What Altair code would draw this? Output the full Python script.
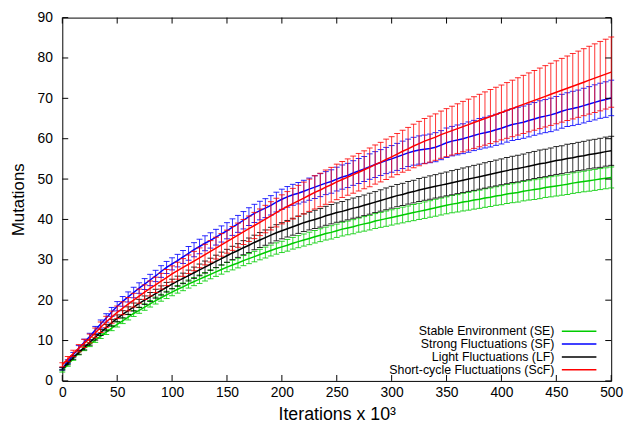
import altair as alt
import pandas as pd

# x positions (iterations x 10^3)
iterations = list(range(0, 501, 5))

series_names = [
    "Stable Environment (SE)",
    "Strong Fluctuations (SF)",
    "Light Fluctuations (LF)",
    "Short-cycle Fluctuations (ScF)",
]
series_colors = ["#00cc00", "#0000ff", "#000000", "#ff0000"]

se_mean = [
    2.5, 4.0, 5.5, 6.9, 8.0, 9.0, 10.1, 11.1, 12.1, 13.1,
    14.0, 14.9, 15.8, 16.7, 17.5, 18.3, 19.1, 19.9, 20.6, 21.3,
    22.0, 22.7, 23.3, 24.0, 24.6, 25.2, 25.8, 26.4, 27.0, 27.6,
    28.2, 28.7, 29.2, 29.8, 30.3, 30.8, 31.3, 31.8, 32.3, 32.8,
    33.2, 33.6, 34.1, 34.5, 34.9, 35.3, 35.7, 36.1, 36.5, 36.8,
    37.2, 37.6, 37.9, 38.2, 38.6, 38.9, 39.2, 39.6, 39.9, 40.2,
    40.5, 40.8, 41.1, 41.4, 41.7, 42.0, 42.3, 42.6, 42.9, 43.2,
    43.5, 43.8, 44.0, 44.3, 44.5, 44.8, 45.0, 45.3, 45.5, 45.8,
    46.0, 46.3, 46.5, 46.7, 47.0, 47.2, 47.4, 47.6, 47.9, 48.1,
    48.3, 48.5, 48.7, 49.0, 49.2, 49.4, 49.6, 49.8, 50.0, 50.2,
    50.4,
]
se_err = [
    0.3, 0.35, 0.4, 0.45, 0.5, 0.5, 0.55, 0.6, 0.6, 0.65,
    0.65, 0.7, 0.7, 0.75, 0.75, 0.8, 0.8, 0.85, 0.85, 0.9,
    0.9, 0.95, 0.95, 1.0, 1.0, 1.05, 1.05, 1.1, 1.1, 1.15,
    1.15, 1.2, 1.2, 1.25, 1.25, 1.3, 1.3, 1.35, 1.35, 1.4,
    1.4, 1.45, 1.45, 1.5, 1.5, 1.55, 1.55, 1.6, 1.6, 1.65,
    1.65, 1.7, 1.7, 1.75, 1.75, 1.8, 1.8, 1.85, 1.85, 1.9,
    1.9, 1.9, 1.95, 1.95, 2.0, 2.0, 2.05, 2.05, 2.1, 2.1,
    2.1, 2.15, 2.15, 2.2, 2.2, 2.25, 2.25, 2.3, 2.3, 2.3,
    2.35, 2.35, 2.35, 2.4, 2.4, 2.4, 2.45, 2.45, 2.45, 2.5,
    2.5, 2.5, 2.5, 2.55, 2.55, 2.55, 2.6, 2.6, 2.6, 2.6,
    2.6,
]

sf_mean = [
    3.0, 4.8, 6.5, 8.1, 9.6, 11.0, 12.6, 14.1, 15.6, 17.1,
    18.5, 19.7, 20.8, 21.9, 23.0, 24.0, 25.0, 26.0, 27.1, 28.1,
    29.0, 29.8, 30.7, 31.6, 32.5, 33.3, 34.1, 34.8, 35.6, 36.4,
    37.2, 38.1, 38.9, 39.8, 40.7, 41.5, 42.2, 42.8, 43.5, 44.3,
    45.0, 45.6, 46.1, 46.5, 47.0, 47.5, 48.0, 48.5, 49.0, 49.4,
    50.0, 50.5, 50.9, 51.5, 52.0, 52.5, 53.1, 53.6, 54.1, 54.6,
    55.0, 55.5, 56.0, 56.5, 56.9, 57.2, 57.4, 57.6, 57.9, 58.4,
    59.0, 59.4, 59.7, 60.0, 60.4, 60.8, 61.2, 61.5, 61.8, 62.2,
    62.6, 63.1, 63.5, 63.8, 64.1, 64.5, 64.9, 65.3, 65.6, 65.9,
    66.3, 66.8, 67.2, 67.5, 67.8, 68.2, 68.6, 69.0, 69.4, 69.7,
    70.1,
]
sf_err = [
    0.3, 0.45, 0.55, 0.65, 0.75, 0.8, 0.9, 1.0, 1.05, 1.1,
    1.15, 1.2, 1.25, 1.3, 1.3, 1.35, 1.4, 1.4, 1.45, 1.5,
    1.5, 1.55, 1.6, 1.7, 1.75, 1.8, 1.85, 1.9, 1.95, 2.0,
    2.0, 2.05, 2.1, 2.15, 2.2, 2.25, 2.3, 2.35, 2.4, 2.45,
    2.5, 2.55, 2.6, 2.65, 2.7, 2.75, 2.8, 2.85, 2.85, 2.9,
    2.95, 3.0, 3.0, 3.05, 3.1, 3.1, 3.15, 3.2, 3.2, 3.25,
    3.3, 3.35, 3.4, 3.4, 3.45, 3.5, 3.5, 3.55, 3.6, 3.6,
    3.65, 3.65, 3.7, 3.7, 3.75, 3.75, 3.8, 3.8, 3.85, 3.85,
    3.9, 3.95, 3.95, 4.0, 4.0, 4.05, 4.05, 4.1, 4.1, 4.15,
    4.15, 4.2, 4.2, 4.25, 4.25, 4.3, 4.3, 4.35, 4.35, 4.4,
    4.4,
]

lf_mean = [
    3.0, 4.4, 5.8, 7.1, 8.3, 9.5, 10.8, 12.0, 13.2, 14.4,
    15.5, 16.5, 17.4, 18.3, 19.2, 20.0, 20.8, 21.6, 22.4, 23.2,
    24.0, 24.7, 25.4, 26.1, 26.8, 27.5, 28.2, 28.9, 29.6, 30.3,
    31.0, 31.7, 32.3, 33.0, 33.6, 34.3, 34.9, 35.5, 36.1, 36.7,
    37.2, 37.7, 38.2, 38.7, 39.2, 39.6, 40.0, 40.4, 40.9, 41.3,
    41.7, 42.0, 42.4, 42.8, 43.1, 43.5, 43.9, 44.3, 44.7, 45.1,
    45.5, 45.9, 46.2, 46.6, 46.9, 47.3, 47.6, 47.9, 48.2, 48.5,
    48.8, 49.1, 49.4, 49.7, 50.0, 50.3, 50.6, 50.9, 51.2, 51.5,
    51.8, 52.1, 52.4, 52.6, 52.9, 53.2, 53.5, 53.8, 54.0, 54.3,
    54.6, 54.8, 55.1, 55.3, 55.6, 55.8, 56.1, 56.3, 56.5, 56.8,
    57.0,
]
lf_err = [
    0.3, 0.4, 0.45, 0.5, 0.6, 0.65, 0.7, 0.75, 0.8, 0.85,
    0.85, 0.9, 0.95, 1.0, 1.0, 1.05, 1.1, 1.1, 1.15, 1.2,
    1.2, 1.25, 1.3, 1.35, 1.4, 1.45, 1.5, 1.5, 1.55, 1.6,
    1.6, 1.65, 1.7, 1.75, 1.8, 1.8, 1.85, 1.9, 1.95, 2.0,
    2.0, 2.05, 2.1, 2.15, 2.2, 2.2, 2.25, 2.3, 2.35, 2.4,
    2.4, 2.45, 2.5, 2.5, 2.55, 2.55, 2.6, 2.6, 2.65, 2.7,
    2.7, 2.75, 2.75, 2.8, 2.8, 2.85, 2.85, 2.9, 2.9, 2.95,
    2.95, 3.0, 3.0, 3.05, 3.05, 3.1, 3.1, 3.15, 3.15, 3.2,
    3.2, 3.25, 3.25, 3.3, 3.3, 3.35, 3.35, 3.4, 3.4, 3.4,
    3.45, 3.45, 3.5, 3.5, 3.5, 3.55, 3.55, 3.55, 3.6, 3.6,
    3.6,
]

scf_mean = [
    4.0, 5.4, 6.8, 8.1, 9.3, 10.5, 11.9, 13.3, 14.6, 15.8,
    17.0, 18.0, 19.0, 20.0, 21.0, 22.0, 22.9, 23.8, 24.7, 25.6,
    26.5, 27.3, 28.1, 28.9, 29.7, 30.5, 31.3, 32.1, 32.9, 33.7,
    34.5, 35.3, 36.1, 36.9, 37.7, 38.5, 39.3, 40.1, 40.9, 41.7,
    42.5, 43.2, 43.9, 44.6, 45.3, 46.0, 46.7, 47.3, 48.0, 48.6,
    49.3, 49.9, 50.5, 51.1, 51.7, 52.3, 52.9, 53.6, 54.2, 54.9,
    55.5, 56.2, 56.9, 57.5, 58.2, 58.8, 59.4, 59.9, 60.4, 61.0,
    61.5, 62.0, 62.5, 63.0, 63.5, 64.0, 64.5, 65.0, 65.5, 66.0,
    66.5, 67.0, 67.5, 68.0, 68.5, 69.0, 69.5, 70.0, 70.5, 71.0,
    71.5, 72.0, 72.5, 73.0, 73.5, 74.0, 74.5, 75.0, 75.5, 76.0,
    76.5,
]
scf_err = [
    0.5, 0.65, 0.8, 0.9, 1.0, 1.1, 1.2, 1.3, 1.4, 1.5,
    1.55, 1.6, 1.65, 1.7, 1.75, 1.8, 1.85, 1.9, 1.95, 2.0,
    2.0, 2.1, 2.2, 2.3, 2.4, 2.45, 2.55, 2.65, 2.7, 2.8,
    2.85, 2.95, 3.0, 3.1, 3.15, 3.25, 3.3, 3.4, 3.5, 3.55,
    3.6, 3.7, 3.8, 3.85, 3.95, 4.0, 4.1, 4.15, 4.25, 4.3,
    4.4, 4.45, 4.5, 4.6, 4.65, 4.7, 4.8, 4.85, 4.9, 5.0,
    5.0, 5.1, 5.2, 5.3, 5.4, 5.5, 5.6, 5.7, 5.75, 5.85,
    5.95, 6.05, 6.15, 6.25, 6.3, 6.4, 6.5, 6.6, 6.7, 6.75,
    6.8, 6.9, 7.0, 7.1, 7.2, 7.3, 7.4, 7.5, 7.6, 7.7,
    7.8, 7.9, 8.0, 8.1, 8.2, 8.3, 8.4, 8.5, 8.6, 8.65,
    8.7,
]

x_ticks = [0, 50, 100, 150, 200, 250, 300, 350, 400, 450, 500]
y_ticks = [0, 10, 20, 30, 40, 50, 60, 70, 80, 90]

W, H = 556, 368
FONT = "Liberation Sans"

xscale = alt.Scale(domain=[0, 500], nice=False, zero=False)
yscale = alt.Scale(domain=[0, 90], nice=False, zero=False)

x_axis = alt.Axis(values=x_ticks, title="Iterations x 10³", grid=False,
                  domain=False, ticks=False, labelPadding=5, labelFlush=False,
                  titlePadding=6, labelFontSize=14, titleFontSize=18,
                  labelFont=FONT, titleFont=FONT, titleFontWeight="normal",
                  labelColor="black", titleColor="black")
y_axis = alt.Axis(values=y_ticks, title="Mutations", grid=False,
                  domain=False, ticks=False, labelPadding=10, labelFlush=False,
                  titlePadding=10, labelFontSize=14, titleFontSize=17,
                  labelFont=FONT, titleFont=FONT, titleFontWeight="normal",
                  labelColor="black", titleColor="black")


def X(field):
    return alt.X(field, scale=xscale, axis=x_axis, title="Iterations x 10³")


def Y(field):
    return alt.Y(field, scale=yscale, axis=y_axis, title="Mutations")


means = [se_mean, sf_mean, lf_mean, scf_mean]
errs = [se_err, sf_err, lf_err, scf_err]

layers = []

for name, color, m, e in zip(series_names, series_colors, means, errs):
    df = pd.DataFrame({
        "x": iterations,
        "mean": m,
        "lo": [a - b for a, b in zip(m, e)],
        "hi": [a + b for a, b in zip(m, e)],
    })
    c = alt.Chart(df)
    bars = c.mark_rule(color=color, strokeWidth=1, opacity=0.8).encode(
        x=X("x:Q"), y=Y("lo:Q"), y2="hi:Q",
    )
    cap_lo = c.mark_tick(color=color, orient="horizontal", size=6, thickness=1, opacity=0.85).encode(
        x=X("x:Q"), y=Y("lo:Q"),
    )
    cap_hi = c.mark_tick(color=color, orient="horizontal", size=6, thickness=1, opacity=0.85).encode(
        x=X("x:Q"), y=Y("hi:Q"),
    )
    line = c.mark_line(color=color, strokeWidth=1.5).encode(
        x=X("x:Q"), y=Y("mean:Q"),
    )
    layers += [bars, cap_lo, cap_hi, line]

# inward ticks on all four sides (gnuplot style)
xt = alt.Chart(pd.DataFrame({"x": x_ticks}))
yt = alt.Chart(pd.DataFrame({"y": y_ticks}))
TL = 6
layers.append(xt.mark_rule(color="black", strokeWidth=1).encode(
    x=X("x:Q"), y=alt.value(H), y2=alt.value(H - TL)))
layers.append(xt.mark_rule(color="black", strokeWidth=1).encode(
    x=X("x:Q"), y=alt.value(0), y2=alt.value(TL)))
layers.append(yt.mark_rule(color="black", strokeWidth=1).encode(
    y=Y("y:Q"), x=alt.value(0), x2=alt.value(TL)))
layers.append(yt.mark_rule(color="black", strokeWidth=1).encode(
    y=Y("y:Q"), x=alt.value(W), x2=alt.value(W - TL)))

# legend (inside, bottom right; label left of the sample line)
leg_y = [317.7, 330.7, 343.7, 356.7]
for name, color, ly in zip(series_names, series_colors, leg_y):
    ld = alt.Chart(pd.DataFrame({"t": [name]}))
    layers.append(ld.mark_text(align="right", baseline="middle", fontSize=12.5,
                               font=FONT, color="black").encode(
        text="t:N", x=alt.value(498.5), y=alt.value(ly)))
    layers.append(ld.mark_rule(color=color, strokeWidth=1.5).encode(
        x=alt.value(506), x2=alt.value(541), y=alt.value(ly)))

chart = alt.layer(*layers).properties(
    width=W, height=H,
    autosize=alt.AutoSizeParams(type="none"),
    padding={"left": 55, "top": 7, "right": 16, "bottom": 48},
    background="white",
).configure_view(stroke="black", strokeWidth=1)

chart.save("out.html", embed_options={"renderer": "svg", "actions": False})
